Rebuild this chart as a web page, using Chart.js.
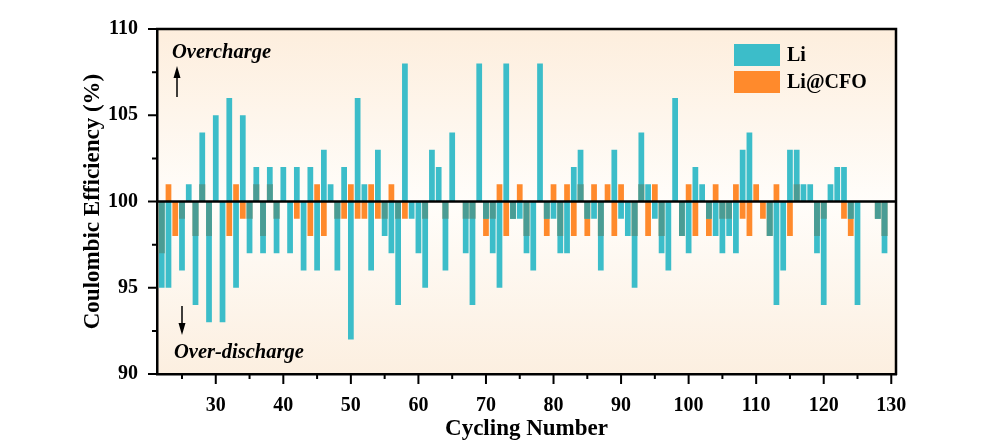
<!DOCTYPE html>
<html>
<head>
<meta charset="utf-8">
<script src="https://cdn.jsdelivr.net/npm/chart.js@4.4.0/dist/chart.umd.min.js"></script>
<style>
  html, body { margin: 0; padding: 0; background: #fff; }
  #wrap { width: 984px; height: 441px; }
</style>
</head>
<body>
<div id="wrap"><canvas id="ceChart" width="984" height="441"></canvas></div>
<script>
// cycle numbers
const cycles = [22,23,24,25,26,27,28,29,30,31,32,33,34,35,36,37,38,39,40,41,
  42,43,44,45,46,47,48,49,50,51,52,53,54,55,56,57,58,59,60,61,
  62,63,64,65,66,67,68,69,70,71,72,73,74,75,76,77,78,79,80,81,
  82,83,84,85,86,87,88,89,90,91,92,93,94,95,96,97,98,99,100,101,
  102,103,104,105,106,107,108,109,110,111,112,113,114,115,116,117,118,119,120,121,
  122,123,124,125,126,127,128,129];

// coulombic efficiency (%) - bare Li
const liCE = [95,95,100,96,101,94,104,93,105,93,
  106,95,105,97,102,97,102,97,102,97,
  102,96,102,96,103,101,96,102,92,106,
  101,96,103,98,97,94,108,99,97,95,
  103,102,96,104,100,97,94,108,99,97,
  95,108,99,99,97,96,108,99,99,97,
  97,102,103,99,99,96,100,103,99,98,
  95,104,101,99,97,96,106,98,97,102,
  101,99,98,97,98,97,103,104,100,100,
  98,94,96,103,103,101,101,97,94,101,
  102,102,99,94,100,100,99,97];

// coulombic efficiency (%) - Li@CFO
const cfoCE = [97,101,98,99,100,98,101,98,100,100,
  98,101,99,99,101,98,101,99,100,100,
  99,100,98,101,98,100,99,99,101,99,
  99,101,99,99,101,99,99,100,100,99,
  100,100,99,100,100,99,99,100,98,99,
  101,98,99,101,98,100,100,98,101,98,
  101,98,101,98,101,98,101,98,101,100,
  98,101,98,101,98,100,100,98,101,98,
  100,98,101,99,99,101,99,98,101,99,
  98,101,100,98,101,100,100,98,99,100,
  100,99,98,100,100,100,99,98];

const xTickLabels = [30,40,50,60,70,80,90,100,110,120,130];
const yTickLabels = [90,95,100,105,110];
const baseLine = 100;

// floating bars from 100 to the value
function toBars(values) {
  return cycles.map((c, i) => ({ x: c, y: values[i] === baseLine ? null : [baseLine, values[i]] }));
}

// part where both series go the same way (drawn darker)
const overlap = cycles.map((c, i) => {
  const a = liCE[i] - baseLine, b = cfoCE[i] - baseLine;
  if (a * b <= 0) return { x: c, y: null };
  const m = Math.sign(a) * Math.min(Math.abs(a), Math.abs(b));
  return { x: c, y: [baseLine, baseLine + m] };
});

const serif = "'Liberation Serif', 'Times New Roman', serif";

const decorPlugin = {
  id: 'decor',
  beforeDraw(chart) {
    const { ctx, chartArea: a } = chart;
    const g = ctx.createLinearGradient(0, a.top, 0, a.bottom);
    g.addColorStop(0, '#fdeedd');
    g.addColorStop(0.5, '#fffdfa');
    g.addColorStop(1, '#fcefe0');
    ctx.save();
    ctx.fillStyle = g;
    ctx.fillRect(a.left, a.top, a.right - a.left, a.bottom - a.top);
    ctx.restore();
  },
  afterDatasetsDraw(chart) {
    const { ctx, chartArea: a, scales } = chart;
    const y0 = scales.y.getPixelForValue(baseLine);
    ctx.save();
    ctx.strokeStyle = '#000';
    ctx.lineWidth = 2.5;
    ctx.beginPath();
    ctx.moveTo(a.left, y0);
    ctx.lineTo(a.right, y0);
    ctx.stroke();
    ctx.restore();
  },
  afterDraw(chart) {
    const { ctx, chartArea: a, scales } = chart;
    ctx.save();
    ctx.strokeStyle = '#000';
    ctx.lineWidth = 2.5;
    // top and right frame
    ctx.beginPath();
    ctx.moveTo(a.left - 1, a.top);
    ctx.lineTo(a.right, a.top);
    ctx.lineTo(a.right, a.bottom + 1);
    ctx.stroke();

    // tick marks, major + minor
    ctx.lineWidth = 2;
    ctx.beginPath();
    xTickLabels.forEach(v => {
      const px = scales.x.getPixelForValue(v);
      ctx.moveTo(px, a.bottom); ctx.lineTo(px, a.bottom + 10);
      const mx = scales.x.getPixelForValue(v - 5);
      ctx.moveTo(mx, a.bottom); ctx.lineTo(mx, a.bottom + 5);
    });
    yTickLabels.forEach((v, i) => {
      const py = scales.y.getPixelForValue(v);
      ctx.moveTo(a.left, py); ctx.lineTo(a.left - 9, py);
      if (i > 0) {
        const my = scales.y.getPixelForValue(v - 2.5);
        ctx.moveTo(a.left, my); ctx.lineTo(a.left - 5, my);
      }
    });
    ctx.stroke();

    // overcharge / over-discharge notes
    ctx.fillStyle = '#000';
    ctx.font = 'italic bold 20.5px ' + serif;
    ctx.textBaseline = 'middle';
    ctx.textAlign = 'left';
    ctx.fillText('Overcharge', 172, 53);
    ctx.fillText('Over-discharge', 174, 353);

    ctx.lineWidth = 1.5;
    ctx.beginPath();
    ctx.moveTo(177, 97); ctx.lineTo(177, 74);
    ctx.moveTo(182, 306); ctx.lineTo(182, 327);
    ctx.stroke();
    ctx.beginPath();
    ctx.moveTo(177, 66); ctx.lineTo(173.5, 78); ctx.lineTo(180.5, 78); ctx.closePath();
    ctx.moveTo(182, 335); ctx.lineTo(178.5, 323); ctx.lineTo(185.5, 323); ctx.closePath();
    ctx.fill();

    // legend
    const items = chart.data.datasets.filter(d => d.inLegend);
    ctx.font = 'bold 20px ' + serif;
    items.forEach((d, i) => {
      const top = 44 + i * 27;
      ctx.fillStyle = d.backgroundColor;
      ctx.fillRect(734, top, 46, 22);
      ctx.fillStyle = '#000';
      ctx.fillText(d.label, 787, top + 12);
    });
    ctx.restore();
  }
};

new Chart(document.getElementById('ceChart'), {
  type: 'bar',
  data: {
    datasets: [
      { label: 'overlap', data: overlap, backgroundColor: '#4a9c94', inLegend: false },
      { label: 'Li', data: toBars(liCE), backgroundColor: '#3cbdc9', inLegend: true },
      { label: 'Li@CFO', data: toBars(cfoCE), backgroundColor: '#ff8a2c', inLegend: true }
    ]
  },
  options: {
    responsive: false,
    animation: false,
    grouped: false,
    categoryPercentage: 1,
    barPercentage: 0.85,
    layout: { padding: { top: 29, right: 88, left: 0, bottom: 0 } },
    plugins: { legend: { display: false }, tooltip: { enabled: false } },
    scales: {
      x: {
        type: 'linear',
        offset: false,
        min: 21.3,
        max: 130.7,
        grid: { display: false, offset: false },
        border: { display: true, color: '#000', width: 2.5 },
        afterBuildTicks: s => { s.ticks = xTickLabels.map(v => ({ value: v })); },
        afterFit: s => { s.height = 67; },
        ticks: {
          color: '#000',
          padding: 12,
          maxRotation: 0,
          autoSkip: false,
          font: { family: serif, size: 20, weight: 'bold' }
        },
        title: {
          display: true,
          text: 'Cycling Number',
          color: '#000',
          padding: { top: 0, bottom: -2 },
          font: { family: serif, size: 23, weight: 'bold' }
        }
      },
      y: {
        min: 90,
        max: 110,
        grid: { display: false },
        border: { display: true, color: '#000', width: 2.5 },
        afterBuildTicks: s => { s.ticks = yTickLabels.map(v => ({ value: v })); },
        afterFit: s => { s.width = 157; },
        ticks: {
          color: '#000',
          padding: 11,
          font: { family: serif, size: 20, weight: 'bold' }
        },
        title: {
          display: true,
          text: 'Coulombic Efficiency (%)',
          color: '#000',
          padding: { top: 79, bottom: 0 },
          font: { family: serif, size: 23, weight: 'bold' }
        }
      }
    }
  },
  plugins: [decorPlugin]
});
</script>
</body>
</html>
